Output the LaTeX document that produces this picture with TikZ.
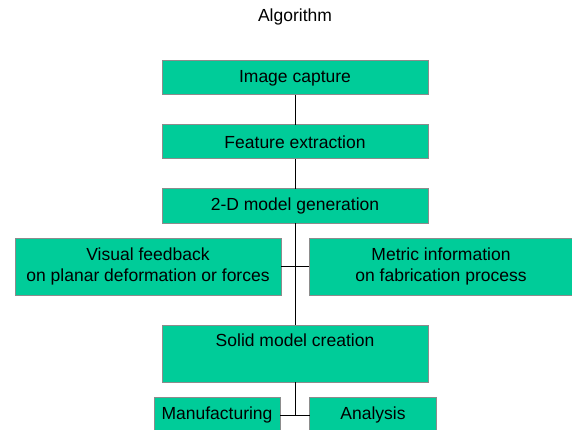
\documentclass[tikz,border=0pt]{standalone}
\usepackage{fontspec}
\setmainfont{Liberation Sans}
\usetikzlibrary{positioning}

\begin{document}
\begin{tikzpicture}[
    x=1pt, y=1pt,
    font=\fontsize{17.5}{21}\selectfont,
]

\definecolor{box_color}{RGB}{0,204,153}
\definecolor{edge_color}{RGB}{140,140,140}

\tikzstyle{blk} = [rectangle, minimum width=266pt, minimum height=34pt, inner sep=0pt, outer sep=0pt, align=center, fill=box_color, draw=edge_color, line width=1pt]
\tikzstyle{tall} = [blk, minimum height=57pt]
\tikzstyle{small} = [blk, minimum width=126pt, minimum height=36pt]

\useasboundingbox (0,0) rectangle (572,-430);

\node (title) at (295,-17) {Algorithm};

\node (capture) [blk] at (295,-78) {Image capture};
\node (feature) [blk, below=30pt of capture] {Feature extraction};
\node (model2d) [blk, below=30pt of feature] {2-D model generation};

\node (visual) [tall, below=15pt of model2d.south, anchor=north east, xshift=-14pt] {Visual feedback\\on planar deformation or forces};
\node (metric) [tall, below=15pt of model2d.south, anchor=north west, xshift=14pt, minimum width=264pt] {Metric information\\on fabrication process};

\node (solid) [tall, below=102pt of model2d] {Solid model creation\\\strut};

\node (manuf) [small, below=15pt of solid.south, anchor=north east, xshift=-15pt] {Manufacturing};
\node (analysis) [small, below=15pt of solid.south, anchor=north west, xshift=14.5pt, minimum width=127pt] {Analysis};

\coordinate (join) at (solid.south |- manuf.east);

\draw[line width=1pt] (capture.south) -- (feature.north);
\draw[line width=1pt] (feature.south) -- (model2d.north);
\draw[line width=1pt] (model2d.south) -- (solid.north);
\draw[line width=1pt] (visual.east) -- (metric.west);
\draw[line width=1pt] (solid.south) -- (join);
\draw[line width=1pt] (manuf.east) -- (analysis.west);

\end{tikzpicture}
\end{document}
